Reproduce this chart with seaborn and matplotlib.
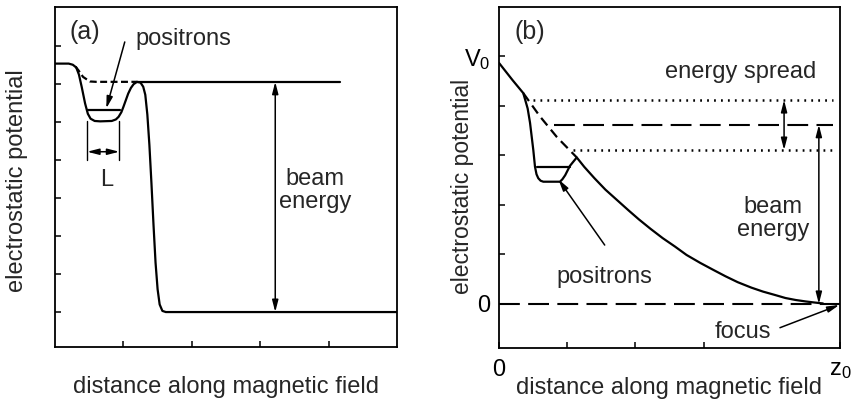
import matplotlib
matplotlib.use("Agg")
import matplotlib.pyplot as plt
import seaborn as sns

# ---------------- data ----------------
# panel (a): potential profile
a_x = [0.0, 0.20, 0.26, 0.31, 0.35, 0.39, 0.44, 0.48, 0.52, 0.58, 0.66, 0.83, 0.89, 0.93,
       0.97, 1.00, 1.04, 1.07, 1.11, 1.15, 1.20, 1.25, 1.29, 1.32, 1.35, 1.38, 1.41, 1.44,
       1.47, 1.50, 1.53, 1.57, 1.62, 5.0]
a_y = [6.54, 6.54, 6.51, 6.44, 6.25, 5.93, 5.49, 5.22, 5.09, 5.03, 5.02, 5.03, 5.07, 5.14,
       5.26, 5.40, 5.60, 5.75, 5.90, 6.00, 6.06, 6.04, 5.93, 5.72, 5.20, 4.40, 3.39, 2.30,
       1.30, 0.60, 0.20, 0.03, 0.0, 0.0]
a_dash_x = [0.30, 0.34, 0.41, 0.51, 0.60, 1.20]
a_dash_y = [6.46, 6.37, 6.19, 6.07, 6.06, 6.06]
a_level_x = [1.20, 4.17]
a_level_y = [6.06, 6.06]
a_pos_x = [0.47, 0.95]
a_pos_y = [5.33, 5.33]
a_L_left = 0.47
a_L_right = 0.94
a_beam_top = 6.06
a_beam_bot = 0.0

# panel (b): potential profile
b_x = [0.0, 0.20, 0.356, 0.42, 0.455, 0.503, 0.528, 0.55, 0.576, 0.61, 0.65, 0.894, 0.93,
       0.97, 1.04, 1.14, 1.25, 1.40, 1.56, 1.73, 1.90, 2.05, 2.22, 2.40, 2.58, 2.75, 2.95,
       3.14, 3.32, 3.50, 3.70, 3.87, 4.05, 4.20, 4.35, 4.50, 4.62, 4.75]
b_y = [4.87, 4.52, 4.26, 3.95, 3.66, 3.11, 2.77, 2.62, 2.54, 2.49, 2.47, 2.47, 2.52,
       2.60, 2.79, 2.96, 2.77, 2.54, 2.31, 2.10, 1.89, 1.71, 1.52, 1.33, 1.16, 0.99, 0.83,
       0.69, 0.56, 0.44, 0.33, 0.25, 0.18, 0.12, 0.08, 0.05, 0.03, 0.01]
b_dash_x = [0.356, 0.60, 0.85, 1.14]
b_dash_y = [4.26, 3.79, 3.37, 2.96]
b_pos_x = [0.55, 1.04]
b_pos_y = [2.77, 2.77]
b_spread_hi = 4.12
b_spread_mid = 3.62
b_spread_lo = 3.11
b_zero = 0.0

label_font = ["Liberation Sans", "DejaVu Sans"]

# ---------------- style ----------------
sns.set_style("ticks")
plt.rcParams["font.family"] = label_font
plt.rcParams["mathtext.fontset"] = "custom"
plt.rcParams["mathtext.rm"] = "Liberation Sans"
plt.rcParams["mathtext.it"] = "Liberation Sans:italic"
plt.rcParams["lines.scale_dashes"] = False

FS = 17
LW = 1.6

fig = plt.figure(figsize=(8.58, 4.08), dpi=100)
fig.patch.set_facecolor("white")
axa = fig.add_axes([55 / 858, 61 / 408, 342 / 858, 340 / 408])
axb = fig.add_axes([499 / 858, 60 / 408, 341 / 858, 341 / 408])

for ax in (axa, axb):
    ax.set_facecolor("white")
    for s in ax.spines.values():
        s.set_visible(True)
        s.set_linewidth(1.3)
        s.set_color("black")
    ax.tick_params(direction="in", length=4.5, width=1.1, colors="black",
                   labelsize=FS, pad=8)

arrow2 = dict(arrowstyle="<|-|>,head_length=0.7,head_width=0.18", color="black",
              lw=1.1, shrinkA=0, shrinkB=0)
arrow1 = dict(arrowstyle="-|>,head_length=0.7,head_width=0.18", color="black",
              lw=1.1, shrinkA=0, shrinkB=0)

# ---------------- panel (a) ----------------
ax = axa
sns.lineplot(x=a_x, y=a_y, ax=ax, sort=False, estimator=None, color="black", lw=LW)
sns.lineplot(x=a_dash_x, y=a_dash_y, ax=ax, sort=False, estimator=None, color="black",
             lw=LW, dashes=(5, 2.5))
sns.lineplot(x=a_level_x, y=a_level_y, ax=ax, sort=False, estimator=None, color="black", lw=LW)
sns.lineplot(x=a_pos_x, y=a_pos_y, ax=ax, sort=False, estimator=None, color="black", lw=LW)
sns.lineplot(x=[a_L_left, a_L_left], y=[5.02, 4.0], ax=ax, sort=False, estimator=None,
             color="black", lw=1.0)
sns.lineplot(x=[a_L_right, a_L_right], y=[5.02, 4.0], ax=ax, sort=False, estimator=None,
             color="black", lw=1.0)
ax.annotate("", xy=(a_L_left, 4.22), xytext=(a_L_right, 4.22), arrowprops=arrow2)
ax.text(0.76, 3.47, "L", fontsize=FS, ha="center", va="center")
ax.annotate("", xy=(0.75, 5.36), xytext=(1.02, 7.11), arrowprops=arrow1)
ax.text(1.88, 7.2, "positrons", fontsize=FS, ha="center", va="center")
ax.text(0.44, 7.38, "(a)", fontsize=FS + 1, ha="center", va="center")
ax.annotate("", xy=(3.22, a_beam_bot), xytext=(3.22, a_beam_top), arrowprops=arrow2)
ax.text(3.8, 3.2, "beam\nenergy", fontsize=FS, ha="center", va="center", linespacing=1.05)

ax.set_xlim(0, 5)
ax.set_ylim(-0.92, 8.03)
ax.set_xticks([1, 2, 3, 4])
ax.set_xticklabels([])
ax.set_yticks(list(range(8)))
ax.set_yticklabels([])
ax.set_xlabel("distance along magnetic field", fontsize=FS)
ax.set_ylabel("electrostatic potential", fontsize=FS)
ax.xaxis.set_label_coords(0.5, -0.118)
ax.xaxis.label.set_va("center")
ax.yaxis.set_label_coords(-0.111, 0.49)
ax.yaxis.label.set_va("center")

# ---------------- panel (b) ----------------
ax = axb
sns.lineplot(x=b_x, y=b_y, ax=ax, sort=False, estimator=None, color="black", lw=LW)
sns.lineplot(x=b_dash_x, y=b_dash_y, ax=ax, sort=False, estimator=None, color="black",
             lw=LW, dashes=(7, 4))
sns.lineplot(x=b_pos_x, y=b_pos_y, ax=ax, sort=False, estimator=None, color="black", lw=LW)
dot_kw = dict(ax=ax, sort=False, estimator=None, color="black", lw=1.8,
              dashes=(1.3, 3.7), dash_capstyle="butt")
sns.lineplot(x=[0.50, 4.9], y=[b_spread_hi, b_spread_hi], **dot_kw)
sns.lineplot(x=[1.08, 4.9], y=[b_spread_lo, b_spread_lo], **dot_kw)
sns.lineplot(x=[0.80, 4.9], y=[b_spread_mid, b_spread_mid], ax=ax, sort=False, estimator=None,
             color="black", lw=1.5, dashes=(15, 6))
sns.lineplot(x=[0.0, 5.0], y=[b_zero, b_zero], ax=ax, sort=False, estimator=None,
             color="black", lw=1.5, dashes=(15, 6))
ax.annotate("", xy=(4.18, b_spread_lo), xytext=(4.18, b_spread_hi), arrowprops=arrow2)
ax.annotate("", xy=(4.69, b_zero), xytext=(4.69, b_spread_mid), arrowprops=arrow2)
ax.text(3.55, 4.69, "energy spread", fontsize=FS, ha="center", va="center")
ax.text(4.02, 1.72, "beam\nenergy", fontsize=FS, ha="center", va="center", linespacing=1.05)
ax.annotate("", xy=(0.87, 2.52), xytext=(1.55, 1.19), arrowprops=arrow1)
ax.text(1.55, 0.55, "positrons", fontsize=FS, ha="center", va="center")
ax.annotate("", xy=(4.99, -0.02), xytext=(4.12, -0.48), arrowprops=arrow1)
ax.text(3.58, -0.57, "focus", fontsize=FS, ha="center", va="center")
ax.text(0.45, 5.5, "(b)", fontsize=FS + 1, ha="center", va="center")

ax.set_xlim(0, 5)
ax.set_ylim(-0.89, 6.0)
ax.set_xticks([0, 1, 2, 3, 5])
ax.set_xticklabels(["0", "", "", "", r"z$_\mathregular{0}$"])
ax.set_yticks([0, 1, 2, 3, 4, 5])
ax.set_yticklabels(["0", "", "", "", "", r"V$_\mathregular{0}$"])
ax.tick_params(axis="y", pad=6)
ax.set_xlabel("distance along magnetic field", fontsize=FS)
ax.set_ylabel("electrostatic potential", fontsize=FS - 0.5)
ax.xaxis.set_label_coords(0.5, -0.117)
ax.xaxis.label.set_va("center")
ax.yaxis.set_label_coords(-0.108, 0.475)
ax.yaxis.label.set_va("center")

fig.savefig("out.png", dpi=100, facecolor="white")
